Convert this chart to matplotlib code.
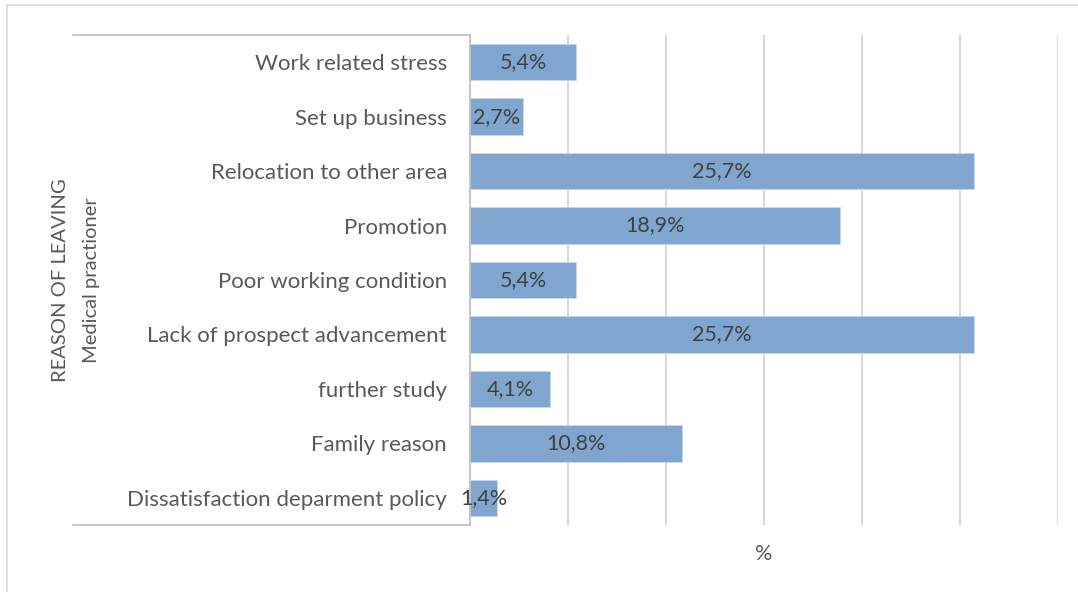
import matplotlib
matplotlib.use("Agg")
import matplotlib.pyplot as plt
from matplotlib.lines import Line2D
from matplotlib.patches import Rectangle

# Data (top to bottom as shown)
reasons = ["Work related stress", "Set up business", "Relocation to other area",
           "Promotion", "Poor working condition", "Lack of prospect advancement",
           "further study", "Family reason", "Dissatisfaction deparment policy"]
values = [5.4, 2.7, 25.7, 18.9, 5.4, 25.7, 4.1, 10.8, 1.4]

plt.rcParams['font.family'] = ['Lato', 'DejaVu Sans']

W, H = 1078, 592
fig = plt.figure(figsize=(W / 100, H / 100), dpi=100)

# plot area in pixel coords
x0, x1 = 470, 1058
y0, y1 = 35, 525
ax = fig.add_axes([x0 / W, 1 - y1 / H, (x1 - x0) / W, (y1 - y0) / H])

ypos = list(range(len(reasons)))[::-1]
bars = ax.barh(ypos, values, height=0.67, color='#80A6CF', edgecolor='#C9D7EA',
               linewidth=0.6, zorder=2)

ax.set_xlim(0, 30)
ax.set_ylim(-0.5, len(reasons) - 0.5)
ax.set_xticks([0, 5, 10, 15, 20, 25, 30])
ax.xaxis.grid(True, color='#D9D9D9', linewidth=1.5, zorder=0)
ax.tick_params(axis='x', length=0, labelbottom=False)
ax.tick_params(axis='y', length=0, pad=16.5, labelsize=16, labelcolor='#595959')
ax.set_yticks(ypos)
ax.set_yticklabels(reasons)

for s in ['top', 'right', 'bottom']:
    ax.spines[s].set_visible(False)
ax.spines['left'].set_color('#BFBFBF')
ax.spines['left'].set_linewidth(1.2)

for b, v in zip(bars, values):
    ax.text(v / 2, b.get_y() + b.get_height() / 2,
            f"{v:.1f}".replace('.', ',') + "%",
            ha='center', va='center', fontsize=15.5, color='#404040', zorder=3)

ax.set_xlabel('%', fontsize=15.5, color='#595959', labelpad=14)

# left bracket lines of category area
for yy in (y0, y1):
    fig.add_artist(Line2D([73 / W, x0 / W], [1 - yy / H, 1 - yy / H],
                          color='#BFBFBF', linewidth=1.2))

# axis title
fig.text(76 / W, 1 - 280 / H, "REASON OF LEAVING\nMedical practioner",
         rotation=90, ha='center', va='center', fontsize=14.5,
         color='#595959', linespacing=1.95, multialignment='center')

# outer chart border
fig.add_artist(Rectangle((7 / W, -0.1), 1.2, 1 - 5 / H + 0.1,
                         transform=fig.transFigure, fill=False,
                         edgecolor='#D9D9D9', linewidth=1.2))

fig.savefig("out.png", dpi=100)
